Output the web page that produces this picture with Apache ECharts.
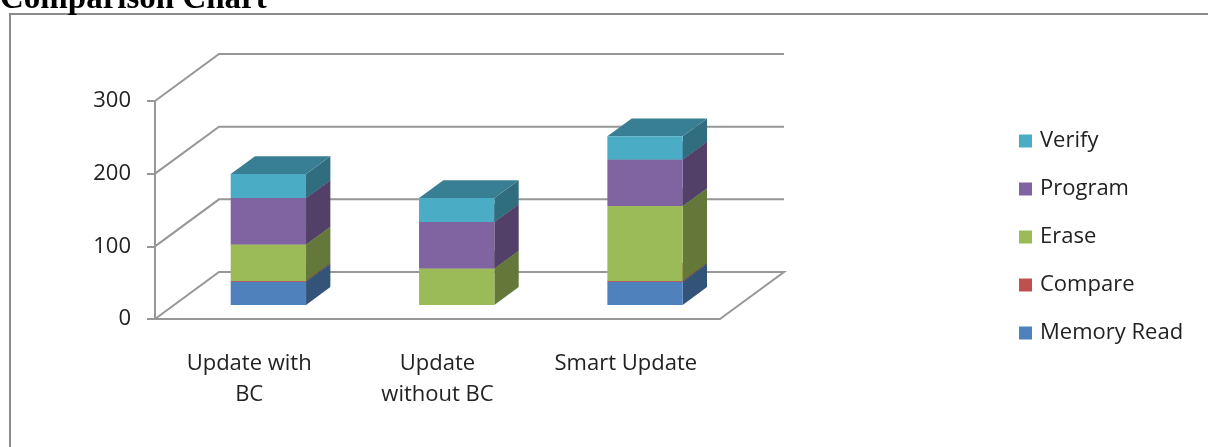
<!DOCTYPE html>
<html>
<head>
<meta charset="utf-8">
<style>
  html, body { margin: 0; padding: 0; background: #fff; }
  #chart { width: 1208px; height: 447px; }
</style>
<script src="https://cdn.jsdelivr.net/npm/echarts@6/dist/echarts.min.js"></script>
</head>
<body>
<div id="chart"></div>
<script>
// data
var categories = ['Update with\nBC', 'Update\nwithout BC', 'Smart Update'];
var memoryRead = [32, 0, 32];
var compare = [1, 0, 1];
var erase = [50, 50, 103];
var program = [64, 64, 64];
var verify = [33, 33, 32];
var yTicks = [0, 100, 200, 300];

var seriesNames = ['Memory Read', 'Compare', 'Erase', 'Program', 'Verify'];
var seriesValues = [memoryRead, compare, erase, program, verify];
var seriesColors = ['#4F81BD', '#C0504D', '#9BBB59', '#8064A2', '#4BACC6'];

// fake 3d: depth offset of the back wall in pixels
var DX = 64, DY = -47;
var FRONT = 0.3, BACK = 0.68;
var LINE = '#979797';
var FONT = 'Open Sans';

function shade(hex, k) {
    var n = parseInt(hex.slice(1), 16);
    var r = Math.round(((n >> 16) & 255) * k);
    var g = Math.round(((n >> 8) & 255) * k);
    var b = Math.round((n & 255) * k);
    return 'rgb(' + r + ',' + g + ',' + b + ')';
}

(function(){
    var myChart = echarts.init(document.getElementById('chart'));

    // stack the segments bottom-up
    var base = categories.map(function () { return 0; });
    var series = [];

    // walls / gridlines first
    series.push({
        type: 'custom',
        name: 'walls',
        z: 1,
        silent: true,
        renderItem: function (params, api) {
            var cs = params.coordSys;
            var y = api.coord([0, api.value(1)])[1];
            var left = cs.x, right = cs.x + cs.width;
            var pts = [[left, y], [left + DX, y + DY], [right + DX, y + DY]];
            if (api.value(1) === 0) pts.push([right, y]);
            return {
                type: 'polyline',
                shape: { points: pts },
                style: { stroke: LINE, lineWidth: 2, fill: null }
            };
        },
        data: yTicks.map(function (v) { return [0, v]; })
    });

    seriesNames.forEach(function (name, s) {
        var vals = seriesValues[s];
        var data = vals.map(function (v, i) {
            var item = [i, base[i], base[i] + v];
            base[i] += v;
            return item;
        });
        var color = seriesColors[s];
        series.push({
            type: 'custom',
            name: name,
            z: 2,
            itemStyle: { color: color },
            encode: { x: 0, y: [1, 2] },
            renderItem: function (params, api) {
                var c = api.value(0), lo = api.value(1), hi = api.value(2);
                if (hi <= lo) return;
                var band = api.size([1, 0])[0];
                var w = band * 0.4;
                var pLo = api.coord([c, lo]);
                var pHi = api.coord([c, hi]);
                var ox = FRONT * DX, oy = FRONT * DY;
                var bx = (BACK - FRONT) * DX, by = (BACK - FRONT) * DY;
                var x0 = pLo[0] - w / 2 + ox, x1 = x0 + w;
                var yLo = pLo[1] + oy, yHi = pHi[1] + oy;
                return {
                    type: 'group',
                    children: [{
                        type: 'polygon',
                        shape: { points: [[x1, yLo], [x1 + bx, yLo + by], [x1 + bx, yHi + by], [x1, yHi]] },
                        style: { fill: shade(color, 0.64) }
                    }, {
                        type: 'polygon',
                        shape: { points: [[x0, yHi], [x1, yHi], [x1 + bx, yHi + by], [x0 + bx, yHi + by]] },
                        style: { fill: shade(color, 0.74) }
                    }, {
                        type: 'rect',
                        shape: { x: x0, y: yHi, width: w, height: yLo - yHi },
                        style: { fill: color }
                    }]
                };
            },
            data: data
        });
    });

    var option = {
        animation: false,
        graphic: [{
            type: 'rect',
            shape: { x: 10, y: 14, width: 1400, height: 600 },
            style: { fill: null, stroke: '#8a8a8a', lineWidth: 2 },
            silent: true
        }, {
            type: 'text',
            left: 0,
            top: -17,
            style: {
                text: 'Comparison Chart',
                font: 'bold 33px "Liberation Serif"',
                fill: '#000'
            }
        }],
        legend: {
            orient: 'vertical',
            left: 1019,
            top: 130,
            padding: 0,
            itemWidth: 13,
            itemHeight: 13,
            itemGap: 26,
            icon: 'rect',
            data: ['Verify', 'Program', 'Erase', 'Compare', 'Memory Read'],
            textStyle: {
                fontFamily: FONT,
                fontSize: 22,
                lineHeight: 22,
                color: '#222',
                padding: [0, 0, 0, 3]
            }
        },
        grid: {
            left: 155,
            top: 101,
            width: 565,
            height: 218
        },
        xAxis: {
            type: 'category',
            data: categories,
            axisLine: { lineStyle: { color: LINE, width: 2 } },
            axisTick: { length: 7, lineStyle: { color: LINE, width: 2 } },
            axisLabel: {
                fontFamily: FONT,
                fontSize: 22,
                lineHeight: 31,
                margin: 29,
                color: '#222'
            }
        },
        yAxis: {
            type: 'value',
            min: 0,
            max: 300,
            interval: 100,
            axisLine: { show: true, lineStyle: { color: LINE, width: 2 } },
            axisTick: { show: true, length: 8, lineStyle: { color: LINE, width: 2 } },
            splitLine: { show: false },
            axisLabel: {
                fontFamily: FONT,
                fontSize: 22,
                margin: 24,
                padding: [6, 0, 0, 0],
                color: '#222'
            }
        },
        series: series
    };
    myChart.setOption(option);
})();
</script>
</body>
</html>
